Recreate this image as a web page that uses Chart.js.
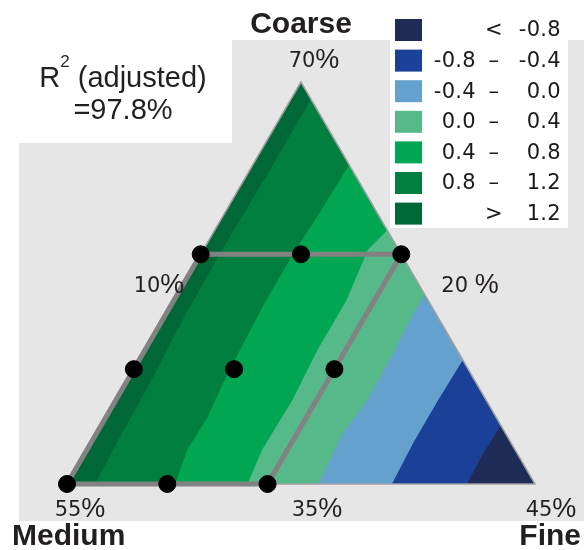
<!DOCTYPE html>
<html>
<head>
<meta charset="utf-8">
<title>Mixture contour</title>
<script src="https://cdn.jsdelivr.net/npm/chart.js@4.4.1/dist/chart.umd.min.js"></script>
<style>
  html, body { margin: 0; padding: 0; background: #fff; }
  canvas { display: block; }
</style>
</head>
<body>
<canvas id="mixture-plot" width="584" height="550"></canvas>
<script>
/* global Chart */

// Simplex corners as [Coarse %, Fine %]; Medium makes up the rest
const simplexTop = [70, 10];
const simplexLeft = [35, 10];
const simplexRight = [35, 45];

// Design runs and the frame of the experimental region
const designPoints = [
    [35, 10], [35, 17.5], [35, 25],
    [45, 10], [45, 17.5], [45, 25],
    [55, 10], [55, 17.5], [55, 25]
];
const designFrame = [[35, 10], [35, 25], [55, 25], [55, 10], [35, 10]];

// Contour lines of the fitted response, from the Fine side towards the Medium side
const contourLevels = [-0.8, -0.4, 0.0, 0.4, 0.8, 1.2];
const contourM08 = [[40.1, 39.9], [37.5, 39.8], [35, 39.9]];
const contourM04 = [[45.8, 34.2], [42.3, 34.1], [38.6, 34.1], [35, 34.3]];
const contour00 = [[51.5, 28.5], [49.3, 28.5], [46.7, 28.7], [42.3, 28.8], [39.4, 28.4], [35, 28.8]];
const contour04 = [[57.1, 22.9], [55.4, 22.3], [51.0, 22.9], [46.7, 22.9], [42.3, 23.2], [38.0, 23.1], [35, 23.5]];
const contour08 = [[62.8, 17.2], [58.9, 17.1], [55.4, 16.9], [51.0, 16.9], [46.7, 17.1], [43.6, 17.3], [40.8, 17.6], [38.0, 17.5], [35, 18.1]];
const contour12 = [[68.5, 11.5], [62.3, 11.5], [55.0, 11.4], [49.5, 11.5], [43.8, 11.8], [39.4, 11.9], [35, 12.1]];
const contourLines = [contourM08, contourM04, contour00, contour04, contour08, contour12];

// Legend rows, lowest band first
const bandColors = ['#1f2b57', '#1a4097', '#65a1ce', '#55b989', '#00a651', '#007f3f', '#006837'];
const bandFrom = ['', '-0.8', '-0.4', '0.0', '0.4', '0.8', ''];
const bandJoin = ['<', '\u2013', '\u2013', '\u2013', '\u2013', '\u2013', '>'];
const bandTo = ['-0.8', '-0.4', '0.0', '0.4', '0.8', '1.2', '1.2'];

const componentNames = ['Coarse', 'Medium', 'Fine'];
const vertexTicks = ['70', '55', '45'];
const edgeTicks = ['10', '20', '35'];
const fitLines = ['(adjusted)', '=97.8%'];

const TEXT = '#231f20';

/**
 * Map a [Coarse, Fine] composition onto the x/y plane of the simplex
 *
 * @param {number[]} point Composition in percent
 * @returns {{x: number, y: number}}
 */
const toPlane = ([coarse, fine]) => {
    const span = simplexTop[0] - simplexLeft[0];
    const c = (coarse - simplexLeft[0]) / span;
    const f = (fine - simplexLeft[1]) / span;

    return {x: f + c / 2, y: c};
};

/**
 * Gray panel and the white boxes behind the texts
 */
const backdrop = {
    id: 'backdrop',
    beforeDraw: (chart) => {
        const ctx = chart.ctx;

        ctx.save();
        ctx.fillStyle = '#ffffff';
        ctx.fillRect(0, 0, chart.width, chart.height);
        ctx.fillStyle = '#e6e6e6';
        ctx.fillRect(232, 40, chart.width - 232, 481);
        ctx.fillRect(19, 143, 213, 378);
        ctx.fillStyle = '#ffffff';
        ctx.fillRect(390, 0, 178, 228);
        ctx.restore();
    }
};

/**
 * Filled contour bands, painted from the lowest level upwards
 */
const contourBands = {
    id: 'contourBands',
    beforeDatasetsDraw: (chart) => {
        const {ctx, scales} = chart;
        const pixel = (pt) => {
            const p = toPlane(pt);
            return [scales.x.getPixelForValue(p.x), scales.y.getPixelForValue(p.y)];
        };
        const polygon = (pts) => {
            ctx.beginPath();
            pts.map(pixel).forEach(([px, py], i) => {
                if (i === 0) {
                    ctx.moveTo(px, py);
                } else {
                    ctx.lineTo(px, py);
                }
            });
            ctx.closePath();
        };

        ctx.save();
        polygon([simplexTop, simplexLeft, simplexRight]);
        ctx.fillStyle = bandColors[0];
        ctx.fill();

        contourLines.forEach((line, i) => {
            polygon([simplexTop, ...line, simplexLeft]);
            ctx.fillStyle = bandColors[i + 1];
            ctx.fill();
        });

        polygon([simplexTop, simplexLeft, simplexRight]);
        ctx.strokeStyle = '#a0a0a0';
        ctx.lineWidth = 1.5;
        ctx.stroke();
        ctx.restore();
    }
};

/**
 * Percent label with a larger percent sign
 */
const drawPercent = (ctx, digits, cx, baseline) => {
    ctx.font = '21px "DejaVu Sans"';
    const wd = ctx.measureText(digits).width;
    ctx.font = '27px "Liberation Sans"';
    const wp = ctx.measureText('%').width;
    const left = cx - (wd + wp) / 2;

    ctx.textAlign = 'left';
    ctx.font = '21px "DejaVu Sans"';
    ctx.fillText(digits, left, baseline);
    ctx.font = '27px "Liberation Sans"';
    ctx.fillText('%', left + wd, baseline + 1);
};

/**
 * Component names, limits, fit statistic and the band legend
 */
const annotations = {
    id: 'annotations',
    afterDraw: (chart) => {
        const ctx = chart.ctx;

        ctx.save();
        ctx.fillStyle = TEXT;
        ctx.textBaseline = 'alphabetic';

        // component names
        ctx.font = 'bold 30px "Liberation Sans"';
        ctx.textAlign = 'center';
        ctx.fillText(componentNames[0], 301, 33);
        ctx.textAlign = 'left';
        ctx.fillText(componentNames[1], 12, 545);
        ctx.textAlign = 'right';
        ctx.fillText(componentNames[2], 581, 545);

        // vertex and edge limits
        drawPercent(ctx, vertexTicks[0], 314, 67);
        drawPercent(ctx, vertexTicks[1], 80, 516);
        drawPercent(ctx, vertexTicks[2], 551, 516);
        drawPercent(ctx, edgeTicks[0], 159, 292);
        drawPercent(ctx, edgeTicks[1] + ' ', 470, 292);
        drawPercent(ctx, edgeTicks[2], 317, 516);

        // R squared
        ctx.font = '29px "Liberation Sans"';
        const wR = ctx.measureText('R').width;
        const wAdj = ctx.measureText(' ' + fitLines[0]).width;
        ctx.font = '17px "Liberation Sans"';
        const wSup = ctx.measureText('2').width;
        let x = 123 - (wR + wSup + wAdj) / 2;
        ctx.textAlign = 'left';
        ctx.font = '29px "Liberation Sans"';
        ctx.fillText('R', x, 87);
        x += wR;
        ctx.font = '17px "Liberation Sans"';
        ctx.fillText('2', x, 67);
        x += wSup;
        ctx.font = '29px "Liberation Sans"';
        ctx.fillText(' ' + fitLines[0], x, 87);
        ctx.textAlign = 'center';
        ctx.fillText(fitLines[1], 123, 119);

        // legend
        ctx.font = '21px "DejaVu Sans"';
        ctx.letterSpacing = '0.3px';
        ctx.textBaseline = 'middle';
        bandColors.forEach((color, i) => {
            const cy = 30 + i * 30.6;
            ctx.fillStyle = color;
            ctx.fillRect(395, cy - 11, 27, 22);
            ctx.fillStyle = '#1a1a1a';
            ctx.textAlign = 'right';
            ctx.fillText(bandFrom[i], 476, cy + 1);
            ctx.fillText(bandTo[i], 561, cy + 1);
            ctx.textAlign = 'center';
            ctx.fillText(bandJoin[i], 494, cy + 1);
        });
        ctx.restore();
    }
};

const drawMixturePlot = (element) => {
    'use strict';

    const chart = new Chart(element, { // eslint-disable-line no-unused-vars
        type: 'scatter',
        data: {
            datasets: [
                {
                    label: 'Design points',
                    data: designPoints.map(toPlane),
                    backgroundColor: '#000000',
                    borderColor: '#000000',
                    pointRadius: 8.5,
                    pointHoverRadius: 8.5,
                    clip: false
                },
                {
                    label: 'Region',
                    data: designFrame.map(toPlane),
                    showLine: true,
                    borderColor: '#828282',
                    borderWidth: 5,
                    pointRadius: 0,
                    borderJoinStyle: 'miter',
                    clip: false
                }
            ]
        },
        options: {
            responsive: false,
            animation: false,
            devicePixelRatio: 1,
            layout: {padding: {left: 67, right: 49, top: 82, bottom: 66}},
            scales: {
                x: {type: 'linear', min: 0, max: 1, display: false},
                y: {type: 'linear', min: 0, max: 1, display: false}
            },
            plugins: {
                legend: {display: false},
                tooltip: {enabled: false}
            }
        },
        plugins: [backdrop, contourBands, annotations]
    });
};

drawMixturePlot(document.getElementById('mixture-plot'));
</script>
</body>
</html>
